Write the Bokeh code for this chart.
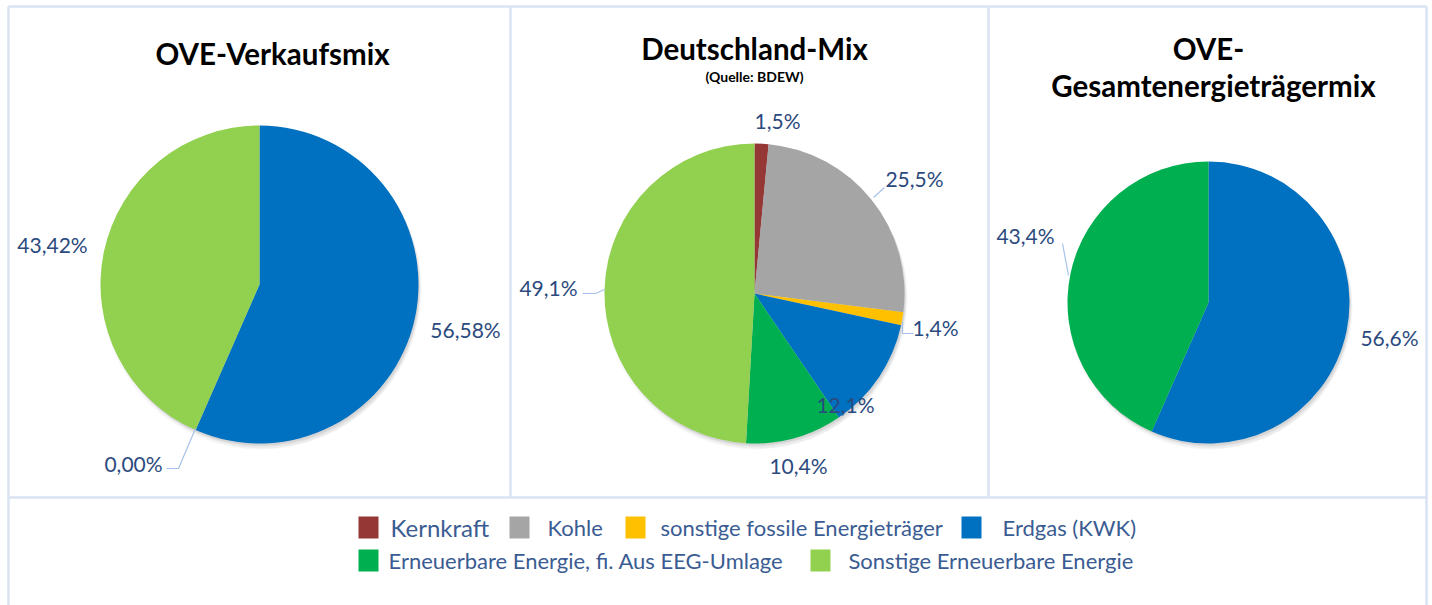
import math
from bokeh.plotting import figure
from bokeh.models import Range1d
from bokeh.core.properties import value
from bokeh.embed import file_html
from bokeh.resources import INLINE

# ---------------- data ----------------
categories = ["Kernkraft", "Kohle", "sonstige fossile Energieträger", "Erdgas (KWK)",
              "Erneuerbare Energie, fi. Aus EEG-Umlage", "Sonstige Erneuerbare Energie"]
colors = ["#953735", "#a5a5a5", "#ffc000", "#0070c0", "#00b050", "#92d050"]

verkaufsmix = [0.0, 0.0, 0.0, 56.58, 0.00, 43.42]
deutschland_mix = [1.5, 25.5, 1.4, 12.1, 10.4, 49.1]
gesamt_mix = [0.0, 0.0, 0.0, 56.6, 43.4, 0.0]

titles = [["OVE-Verkaufsmix"], ["Deutschland-Mix"], ["OVE-", "Gesamtenergieträgermix"]]
subtitle = "(Quelle: BDEW)"

# which slices get a label (index into categories)
shown_1 = [3, 4, 5]
shown_2 = [0, 1, 2, 3, 4, 5]
shown_3 = [3, 4]

# ---------------- layout (pixel space, y from top) ----------------
W, H = 1432, 605
def Y(py):
    return H - py

pies = [
    dict(vals=verkaufsmix, shown=shown_1, dec=2, cx=259, cy=284, r=159,
         lab={3: (465, 329), 4: (133, 463), 5: (52, 244)},
         leaders={4: [(166, 468), (178, 468), (195, 428)]},
         tpos=[(272, 53)]),
    dict(vals=deutschland_mix, shown=shown_2, dec=1, cx=754, cy=293, r=150,
         lab={0: (777, 120), 1: (914, 178), 2: (935, 327), 3: (845, 404), 4: (798, 465), 5: (548, 287)},
         leaders={1: [(884, 187), (873, 197)],
                  2: [(902, 321), (902, 333), (913, 333)],
                  5: [(582, 293), (595, 293), (604, 289)]},
         tpos=[(754, 48)]),
    dict(vals=gesamt_mix, shown=shown_3, dec=1, cx=1208, cy=302, r=141,
         lab={3: (1389, 337), 4: (1025, 235)},
         leaders={4: [(1062, 243), (1068, 275)]},
         tpos=[(1208, 48), (1213, 85)]),
]

p = figure(width=W, height=H, output_backend="svg", toolbar_location=None,
           x_range=Range1d(0, W), y_range=Range1d(0, H),
           min_border=0, background_fill_color="white", border_fill_color="white")
p.outline_line_color = None
p.axis.visible = False
p.grid.visible = False

# frame lines
border_col = "#dae3f3"
segs_x = [[8, 1426], [8, 1426], [8, 8], [1426, 1426], [510, 510], [988, 988]]
segs_y = [[Y(6), Y(6)], [Y(497), Y(497)], [Y(6), Y(605)], [Y(6), Y(605)], [Y(6), Y(497)], [Y(6), Y(497)]]
p.multi_line(xs=segs_x, ys=segs_y, line_color=border_col, line_width=2.5)

label_col = "#2b4a7e"
for pie in pies:
    cx, cy, r = pie["cx"], Y(pie["cy"]), pie["r"]
    # soft shadow
    for dx, dy, a in [(1, -2, 0.05), (2, -3, 0.05), (3, -5, 0.04), (1, -6, 0.03)]:
        p.circle(x=[cx + dx], y=[cy + dy], radius=r, fill_color="black", fill_alpha=a, line_color=None)
    total = sum(pie["vals"])
    cum = 0.0
    starts, ends, cols = [], [], []
    for v, c in zip(pie["vals"], colors):
        a0 = math.pi / 2 - 2 * math.pi * cum / total
        cum += v
        a1 = math.pi / 2 - 2 * math.pi * cum / total
        if v > 0:
            starts.append(a0); ends.append(a1); cols.append(c)
    p.wedge(x=[cx] * len(starts), y=[cy] * len(starts), radius=r,
            start_angle=starts, end_angle=ends, direction="clock",
            fill_color=cols, line_color=None)
    # leaders
    for idx, pts in pie["leaders"].items():
        p.line(x=[q[0] for q in pts], y=[Y(q[1]) for q in pts], line_color="#a6c2ea", line_width=1.2)
    # labels
    lx, ly, lt = [], [], []
    for idx in pie["shown"]:
        v = pie["vals"][idx]
        s = f"{v:.{pie['dec']}f}".replace(".", ",") + "%"
        lx.append(pie["lab"][idx][0]); ly.append(Y(pie["lab"][idx][1])); lt.append(s)
    p.text(x=lx, y=ly, text=lt, text_font=value("Lato"), text_font_size=value("21px"),
           text_color=label_col, text_align="center", text_baseline="middle")

# titles
for pie, tl in zip(pies, titles):
    for (tx, ty), t in zip(pie["tpos"], tl):
        p.text(x=[tx], y=[Y(ty)], text=[t], text_font=value("Lato"), text_font_size=value("29.5px"),
               text_font_style="bold", text_color="black", text_align="center", text_baseline="middle")
p.text(x=[754], y=[Y(76)], text=[subtitle], text_font=value("Lato"), text_font_size=value("14px"),
       text_font_style="bold", text_color="black", text_align="center", text_baseline="middle")

# legend (manual, two rows)
leg_key_x = [358, 509, 625, 961, 358, 810]
leg_text_x = [390, 547, 660, 1002, 388, 848]
leg_row_y = [527, 527, 527, 527, 560, 560]
leg_sizes = ["24px", "22px", "22px", "22px", "22px", "22px"]
for i, cat in enumerate(categories):
    p.rect(x=[leg_key_x[i] + 10], y=[Y(leg_row_y[i])], width=20, height=22,
           fill_color=colors[i], line_color=None)
    p.text(x=[leg_text_x[i]], y=[Y(leg_row_y[i])], text=[cat], text_font=value("Lato"),
           text_font_size=value(leg_sizes[i]), text_color="#3a5c92",
           text_align="left", text_baseline="middle")

open("out.html", "w").write(file_html(p, INLINE))
